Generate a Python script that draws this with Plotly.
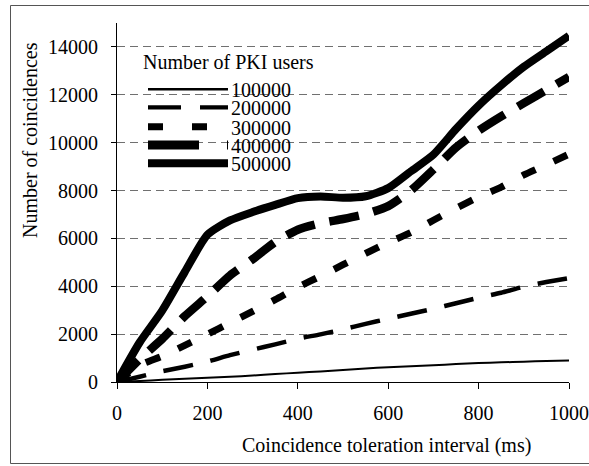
import plotly.graph_objects as go

# ---- data ----
interval_ms = [0, 50, 100, 150, 200, 250, 300, 350, 400, 450, 500,
               550, 600, 650, 700, 750, 800, 850, 900, 950, 1000]

users_100000 = [0, 40, 90, 140, 180, 220, 270, 330, 390, 440, 500,
                560, 620, 660, 700, 750, 790, 820, 850, 880, 900]
users_200000 = [0, 220, 450, 640, 855, 1120, 1350, 1570, 1810, 1990, 2200,
                2430, 2640, 2850, 3060, 3290, 3520, 3730, 3980, 4180, 4340]
users_300000 = [0, 700, 1080, 1530, 1990, 2470, 2950, 3440, 3960, 4420, 4900,
                5370, 5830, 6240, 6760, 7260, 7730, 8140, 8650, 9080, 9520]
users_400000 = [0, 950, 1800, 2750, 3580, 4450, 5130, 5850, 6360, 6630, 6810,
                7020, 7350, 8000, 8880, 9800, 10500, 11100, 11650, 12200, 12750]
users_500000 = [0, 1650, 2980, 4600, 6150, 6750, 7100, 7400, 7680, 7750, 7700,
                7760, 8100, 8800, 9500, 10570, 11550, 12400, 13170, 13820, 14470]

series_names = ["100000", "200000", "300000", "400000", "500000"]
series_values = [users_100000, users_200000, users_300000, users_400000, users_500000]

x_ticks = [0, 200, 400, 600, 800, 1000]
x_tick_labels = ["0", "200", "400", "600", "800", "1000"]
y_ticks = [0, 2000, 4000, 6000, 8000, 10000, 12000, 14000]
y_tick_labels = ["0", "2000", "4000", "6000", "8000", "10000", "12000", "14000"]

legend_title = "Number of PKI users"
x_title = "Coincidence toleration interval (ms)"
y_title = "Number of coincidences"

# ---- styles ----
FONT = "Times New Roman, Liberation Serif, DejaVu Serif, serif"
widths = [2, 4.5, 7, 8.5, 8]
chart_dash = ["solid", "30px,18px", "15px,20px", "30px,15px", "solid"]
legend_dash = ["solid", "33px,19px", "15px,29px", "51px,28px", "solid"]
legend_widths = [2.5, 4.3, 7, 9, 8]

fig = go.Figure()
for name, vals, w, d in zip(series_names, series_values, widths, chart_dash):
    fig.add_trace(go.Scatter(
        x=interval_ms, y=vals, mode="lines", name=name, showlegend=False,
        line=dict(color="black", width=w, dash=d, shape="spline", smoothing=0.6),
        cliponaxis=True, hoverinfo="skip",
    ))

# plot area geometry in px (for placing custom legend / titles)
L, R, T, B = 117, 20, 23, 84
W, H = 589, 466
pw, ph = W - L - R, H - T - B


def px_x(p):
    return (p - L) / pw


def px_y(p):
    return (H - B - p) / ph


shapes = []
annotations = []

# outer frame
shapes.append(dict(type="rect", xref="paper", yref="paper",
                   x0=px_x(10.5), x1=px_x(640), y0=px_y(463.5), y1=px_y(5.5),
                   line=dict(color="#555555", width=1), fillcolor="rgba(0,0,0,0)",
                   layer="above"))

# custom legend
row_y = [89.3, 107.3, 126.7, 145.0, 163.3]
annotations.append(dict(text=legend_title, xref="paper", yref="paper",
                        x=px_x(228), y=px_y(62), xanchor="center", yanchor="middle",
                        showarrow=False, font=dict(family=FONT, size=20, color="black")))
for name, ry, lw, ld in zip(series_names, row_y, legend_widths, legend_dash):
    shapes.append(dict(type="line", xref="paper", yref="paper",
                       x0=px_x(148), x1=px_x(228), y0=px_y(ry), y1=px_y(ry),
                       line=dict(color="black", width=lw, dash=ld)))
    annotations.append(dict(text=name, xref="paper", yref="paper",
                            x=px_x(229.5), y=px_y(ry + 0.5), xanchor="left", yanchor="middle",
                            height=17, borderpad=0,
                            showarrow=False, font=dict(family=FONT, size=20, color="black")))

# axis titles
annotations.append(dict(text=x_title, xref="paper", yref="paper",
                        x=px_x(386), y=px_y(445), xanchor="center", yanchor="middle",
                        showarrow=False, font=dict(family=FONT, size=20, color="black")))
annotations.append(dict(text=y_title, xref="paper", yref="paper",
                        x=px_x(30), y=px_y(140), xanchor="center", yanchor="middle",
                        textangle=-90, showarrow=False,
                        font=dict(family=FONT, size=20, color="black")))

fig.update_layout(
    width=W, height=H, autosize=False,
    margin=dict(l=L, r=R, t=T, b=B, pad=0, autoexpand=False),
    paper_bgcolor="white", plot_bgcolor="white",
    font=dict(family=FONT, size=20, color="black"),
    shapes=shapes, annotations=annotations,
    hovermode=False,
    xaxis=dict(range=[0, 1000], tickmode="array", tickvals=x_ticks, ticktext=x_tick_labels,
               ticks="outside", ticklen=6, tickwidth=1, tickcolor="black",
               showline=True, linecolor="black", linewidth=1, mirror=False,
               showgrid=False, zeroline=False, ticklabelstandoff=7, automargin=False,
               tickfont=dict(family=FONT, size=20, color="black")),
    yaxis=dict(range=[0, 15000], tickmode="array", tickvals=y_ticks, ticktext=y_tick_labels,
               ticks="outside", ticklen=5, tickwidth=1, tickcolor="black",
               showline=True, linecolor="black", linewidth=1,
               showgrid=True, gridcolor="#707070", gridwidth=1, griddash="8px,5px",
               zeroline=False, ticklabelstandoff=9, automargin=False,
               tickfont=dict(family=FONT, size=20, color="black")),
)

fig.write_html("out.html",
               config={"displayModeBar": False, "staticPlot": True},
               post_script="document.body.style.margin='0';document.body.style.overflow='hidden';")
